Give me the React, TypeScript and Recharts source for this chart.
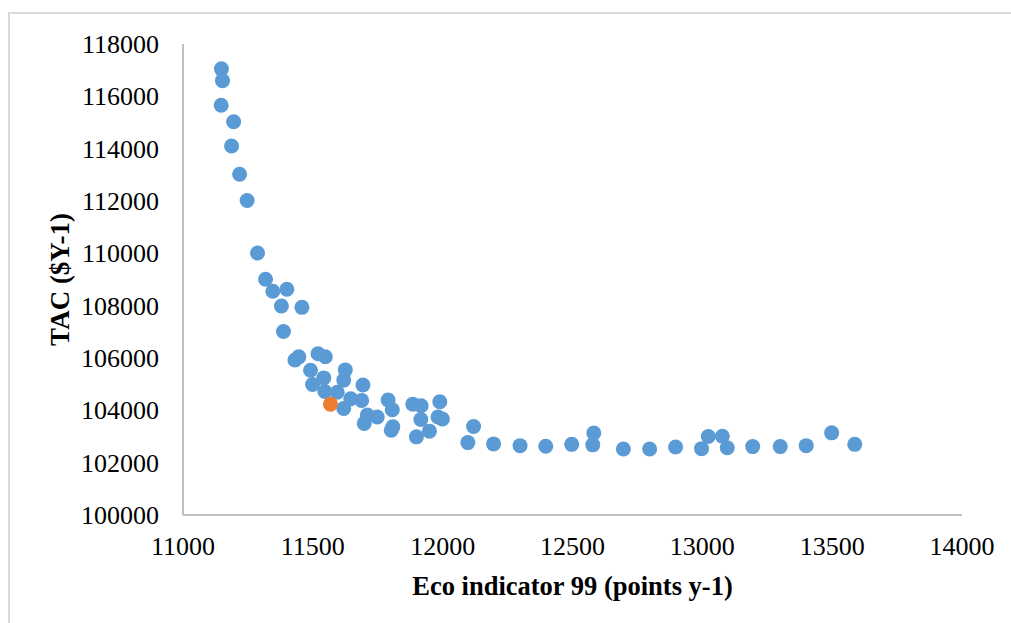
import React from 'react';
import { ScatterChart, Scatter, XAxis, YAxis, Label } from 'recharts';

const ecoIndicator: number[] = [
  11148, 11152, 11147, 11195, 11187, 11218, 11247, 11287, 11318, 11346,
  11400, 11379, 11458, 11387, 11431, 11446, 11520, 11548, 11491, 11499,
  11542, 11625, 11619, 11693, 11546, 11594, 11646, 11688, 11790, 11885,
  11917, 11989, 11619, 11806, 11710, 11748, 11698, 11916, 11982, 11999,
  11802, 11808, 11899, 11949, 12119, 12097, 12196, 12298, 12397, 12497,
  12582, 12578, 12696, 12797, 12897, 12997, 13023, 13077, 13096, 13194,
  13300, 13400, 13498, 13587,
];
const tac: number[] = [
  117050, 116600, 115660, 115030, 114100, 113020, 112020, 110010, 109010, 108550,
  108630, 107985, 107935, 107015, 105924, 106045, 106165, 106050, 105530, 104990,
  105240, 105545, 105155, 104970, 104720, 104690, 104445, 104380, 104397, 104237,
  104176, 104328, 104070, 104024, 103822, 103747, 103500, 103650, 103747, 103670,
  103240, 103370, 102986, 103205, 103380, 102766, 102717, 102650, 102630, 102700,
  103132, 102680, 102522, 102522, 102600, 102535, 103000, 103010, 102570, 102615,
  102615, 102650, 103140, 102700,
];
const selectedEco: number[] = [11568];
const selectedTac: number[] = [104237];

const xTicks: number[] = [11000, 11500, 12000, 12500, 13000, 13500, 14000];
const yTicks: number[] = [100000, 102000, 104000, 106000, 108000, 110000, 112000, 114000, 116000, 118000];

const paretoData = ecoIndicator.map((x, i) => ({ x, y: tac[i] }));
const selectedData = selectedEco.map((x, i) => ({ x, y: selectedTac[i] }));

const FONT = '"Liberation Serif", "Times New Roman", serif';

const dot = (color: string) => (props: any) => (
  <circle cx={props.cx} cy={props.cy} r={7.5} fill={color} />
);

const XTick = (props: any) => (
  <text x={props.x} y={props.y + 18} textAnchor="middle" fontFamily={FONT} fontSize={26} fill="#000">
    {props.payload.value}
  </text>
);

const YTick = (props: any) => (
  <text x={props.x} y={props.y + 9} textAnchor="end" fontFamily={FONT} fontSize={26} fill="#000">
    {props.payload.value}
  </text>
);

export default function App() {
  return (
    <div style={{ position: 'fixed', left: 0, top: 0, width: 1011, height: 623, overflow: 'hidden', background: '#fff', fontFamily: FONT }}>
      <div style={{ position: 'absolute', left: 8, top: 12, width: 1100, height: 700, border: '2px solid #d9d9d9', boxSizing: 'border-box' }} />
      <div style={{ position: 'absolute', left: 0, top: 0 }}>
        <ScatterChart width={1011} height={623} margin={{ top: 44, right: 49, left: 0, bottom: 0 }} style={{ fontFamily: FONT }}>
          <XAxis
            type="number"
            dataKey="x"
            domain={[11000, 14000]}
            ticks={xTicks}
            allowDataOverflow
            height={108}
            tickLine={false}
            tickSize={0}
            tickMargin={22}
            axisLine={{ stroke: '#bfbfbf', strokeWidth: 2 }}
            tick={<XTick />}
            interval={0}
          >
            <Label
              content={(p: any) => {
                const vb = p.viewBox || {};
                return (
                  <text
                    x={vb.x + vb.width / 2}
                    y={vb.y + 80}
                    textAnchor="middle"
                    fontFamily={FONT}
                    fontWeight="bold"
                    fontSize={26.5}
                    fill="#000"
                  >
                    Eco indicator 99 (points y-1)
                  </text>
                );
              }}
            />
          </XAxis>
          <YAxis
            type="number"
            dataKey="y"
            domain={[100000, 118000]}
            ticks={yTicks}
            allowDataOverflow
            width={183}
            tickLine={false}
            tickSize={0}
            tickMargin={24}
            axisLine={{ stroke: '#bfbfbf', strokeWidth: 2 }}
            tick={<YTick />}
            interval={0}
          >
            <Label
              content={(p: any) => {
                const vb = p.viewBox || {};
                const cx = vb.x + 60;
                const cy = vb.y + vb.height / 2;
                return (
                  <text
                    x={cx}
                    y={cy}
                    textAnchor="middle"
                    dominantBaseline="central"
                    transform={`rotate(-90, ${cx}, ${cy})`}
                    fontFamily={FONT}
                    fontWeight="bold"
                    fontSize={27}
                    fill="#000"
                  >
                    TAC ($Y-1)
                  </text>
                );
              }}
            />
          </YAxis>
          <Scatter data={paretoData} fill="#5B9BD5" shape={dot('#5B9BD5')} isAnimationActive={false} />
          <Scatter data={selectedData} fill="#ED7D31" shape={dot('#ED7D31')} isAnimationActive={false} />
        </ScatterChart>
      </div>
    </div>
  );
}
